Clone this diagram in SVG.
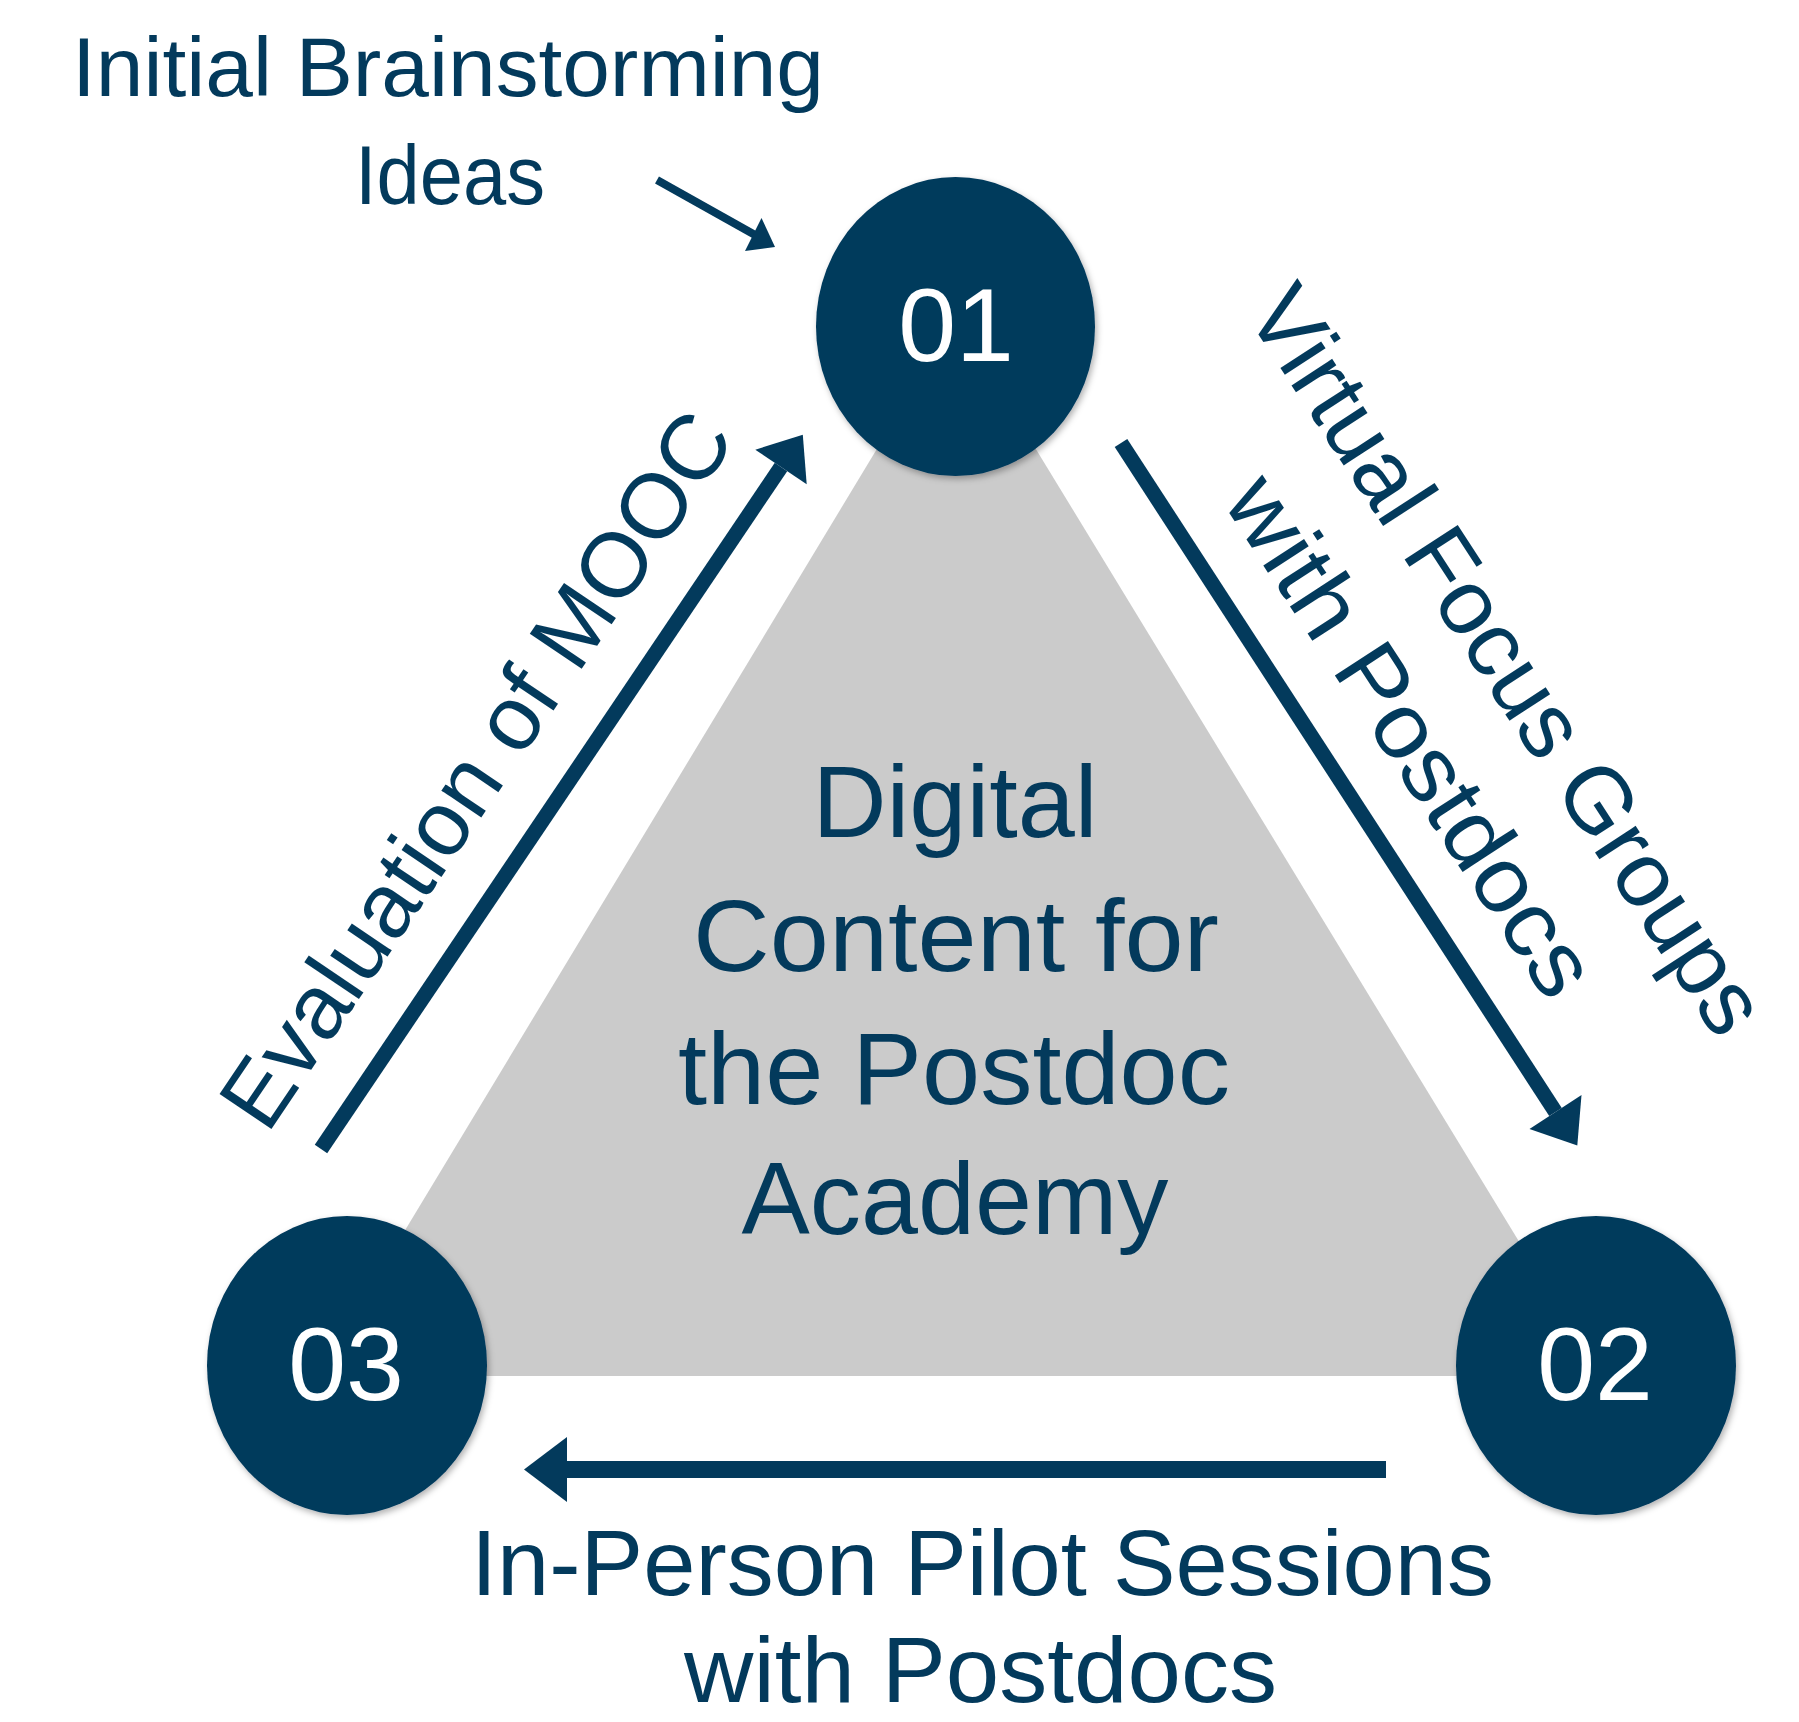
<svg xmlns="http://www.w3.org/2000/svg" width="1799" height="1722" viewBox="0 0 1799 1722">
  <defs>
    <filter id="shadow" x="-20%" y="-20%" width="140%" height="140%">
      <feDropShadow dx="2" dy="3" stdDeviation="3" flood-color="#000000" flood-opacity="0.3"/>
    </filter>
    <style>
      .navy { fill: #033a5c; }
      .shaft { stroke: #033a5c; stroke-width: 15; fill: none; stroke-linecap: butt; }
      .txt { font-family: "Liberation Sans", Arial, sans-serif; fill: #033a5c; }
      .num { font-family: "Liberation Sans", Arial, sans-serif; fill: #ffffff; font-size: 104px; text-anchor: middle; }
      .center { font-size: 102px; text-anchor: middle; }
    </style>
  </defs>
  <rect x="0" y="0" width="1799" height="1722" fill="#ffffff"/>

  <g id="core">
    <polygon points="956,318 317,1376 1601,1376" fill="#cbcbcb"/>
    <text class="txt center" x="955" y="837" textLength="285" lengthAdjust="spacingAndGlyphs">Digital</text>
    <text class="txt center" x="956" y="971" textLength="526" lengthAdjust="spacingAndGlyphs">Content for</text>
    <text class="txt center" x="954" y="1104" textLength="552" lengthAdjust="spacingAndGlyphs">the Postdoc</text>
    <text class="txt center" x="955" y="1234" textLength="427" lengthAdjust="spacingAndGlyphs">Academy</text>
  </g>

  <g id="connectors">
    <g id="arrow-start">
      <line class="shaft" x1="657" y1="180" x2="756" y2="235.5" style="stroke-width:8"/>
      <polygon class="navy" points="775,247 761.5,218 745,251"/>
    </g>
    <g id="arrow-01-02">
      <line class="shaft" x1="1121" y1="443" x2="1555.5" y2="1112"/>
      <polygon class="navy" points="1577.3,1145.5 1581.5,1095.1 1529.5,1128.9"/>
    </g>
    <g id="arrow-02-03">
      <rect class="navy" x="566" y="1461" width="820" height="17"/>
      <polygon class="navy" points="524,1469.5 567,1437 567,1502"/>
    </g>
    <g id="arrow-03-01">
      <line class="shaft" x1="321" y1="1149" x2="781" y2="467"/>
      <polygon class="navy" points="802.8,434.7 806.7,484.3 755.3,449.7"/>
    </g>
  </g>

  <g id="node-01">
    <ellipse class="navy" cx="955.5" cy="326.5" rx="139.5" ry="149.5" filter="url(#shadow)"/>
    <text class="num" x="956" y="361">01</text>
  </g>
  <g id="node-02">
    <ellipse class="navy" cx="1596" cy="1365.5" rx="140" ry="149.5" filter="url(#shadow)"/>
    <text class="num" x="1595" y="1400">02</text>
  </g>
  <g id="node-03">
    <ellipse class="navy" cx="347" cy="1365.5" rx="140" ry="149.5" filter="url(#shadow)"/>
    <text class="num" x="346" y="1400">03</text>
  </g>

  <g id="label-start">
    <text class="txt" x="448" y="96" font-size="83" text-anchor="middle" textLength="752" lengthAdjust="spacingAndGlyphs">Initial Brainstorming</text>
    <text class="txt" x="450" y="204" font-size="83" text-anchor="middle" textLength="190" lengthAdjust="spacingAndGlyphs">Ideas</text>
  </g>

  <g id="label-01-02">
    <text class="txt" font-size="92" text-anchor="middle" transform="translate(1481,677) rotate(57)" textLength="870" lengthAdjust="spacingAndGlyphs">Virtual Focus Groups</text>
    <text class="txt" font-size="92" text-anchor="middle" transform="translate(1385,752.7) rotate(57)" textLength="600" lengthAdjust="spacingAndGlyphs">with Postdocs</text>
  </g>

  <g id="label-02-03">
    <text class="txt" x="982.5" y="1595" font-size="92" text-anchor="middle" textLength="1023" lengthAdjust="spacingAndGlyphs">In-Person Pilot Sessions</text>
    <text class="txt" x="980.5" y="1702" font-size="92" text-anchor="middle" textLength="593" lengthAdjust="spacingAndGlyphs">with Postdocs</text>
  </g>

  <g id="label-03-01">
    <text class="txt" font-size="91" text-anchor="middle" transform="translate(502,787) rotate(-56)" textLength="840" lengthAdjust="spacingAndGlyphs">Evaluation of MOOC</text>
  </g>
</svg>
